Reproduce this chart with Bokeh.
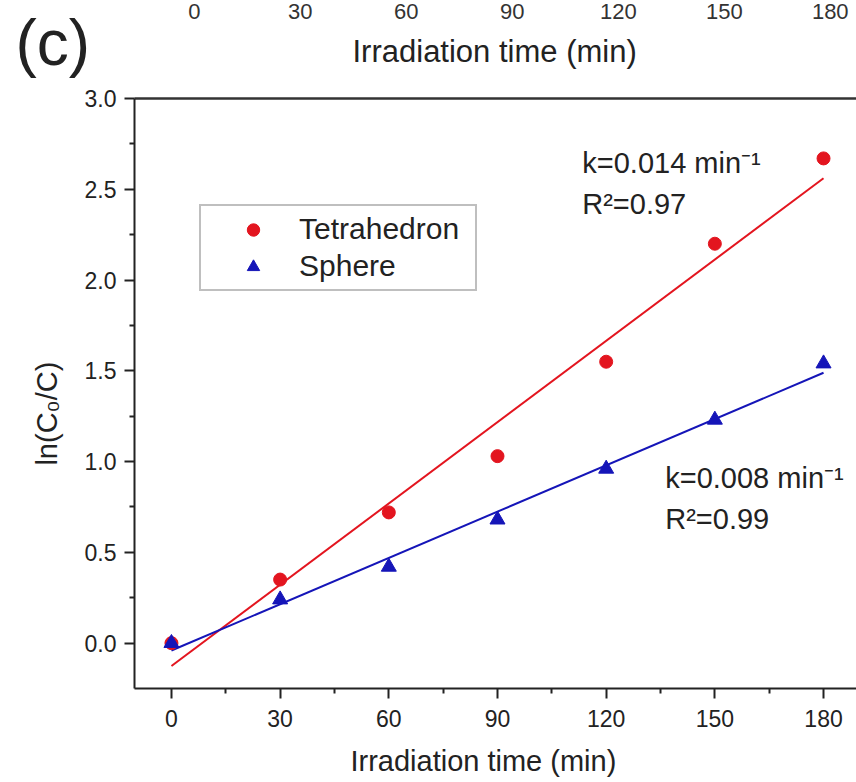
import numpy as np
from bokeh.plotting import figure
from bokeh.layouts import column
from bokeh.models import (Range1d, LinearAxis, FixedTicker, Legend, LegendItem,
                          Label, NumeralTickFormatter)
from bokeh.core.properties import value
from bokeh.embed import file_html
from bokeh.resources import INLINE

# ---------------- data ----------------
time_min = [0, 30, 60, 90, 120, 150, 180]
tetrahedron = [0.0, 0.35, 0.72, 1.03, 1.55, 2.20, 2.67]
sphere = [0.0, 0.24, 0.42, 0.68, 0.96, 1.23, 1.54]
series_names = ["Tetrahedron", "Sphere"]

x_ticks = [0, 30, 60, 90, 120, 150, 180]
x_minor = [15, 45, 75, 105, 135, 165]
y_ticks = [0.0, 0.5, 1.0, 1.5, 2.0, 2.5, 3.0]
y_minor = [0.25, 0.75, 1.25, 1.75, 2.25, 2.75]
prev_panel_ticks = [0, 30, 60, 90, 120, 150, 180]

tetra_note = ["k=0.014 min\u207b\u00b9", "R\u00b2=0.97"]
sphere_note = ["k=0.008 min\u207b\u00b9", "R\u00b2=0.99"]
x_title = "Irradiation time (min)"
y_title = "ln(C\u2080/C)"
panel_tag = "(c)"

# ---------------- style ----------------
FONT = "Liberation Sans"
RED = "#e3151f"
BLUE = "#1515b8"
INK = "#222222"
W = 856
TOP_H = 80
MAIN_H = 782 - TOP_H
NB = "\u00a0"

# ---------- strip above the panel: cropped axis of the previous panel + tag ----------
pa = figure(width=W, height=TOP_H, x_range=Range1d(-54.86, 187.43),
            y_range=Range1d(TOP_H, 0), output_backend="svg",
            toolbar_location=None, x_axis_location=None, y_axis_location=None,
            min_border=0)
pa.frame_align = False
pa.outline_line_color = None
pa.xgrid.visible = False
pa.ygrid.visible = False
pa.text(x=prev_panel_ticks, y=[11] * len(prev_panel_ticks),
        text=[str(v) for v in prev_panel_ticks],
        text_font=value(FONT), text_font_size="22px", text_color="#333333",
        text_align="center", text_baseline="alphabetic")
pa.text(x=[85], y=[51], text=[x_title], text_font=value(FONT),
        text_font_size="31px", text_color=INK,
        text_align="center", text_baseline="alphabetic")
pa.text(x=[-50.6], y=[42], text=[panel_tag], text_font=value(FONT),
        text_font_size="64px", text_color=INK,
        text_align="left", text_baseline="alphabetic")

# ---------------- main panel ----------------
p = figure(width=W, height=MAIN_H,
           x_range=Range1d(-10.2, 189.1), y_range=Range1d(-0.25, 3.0),
           output_backend="svg", toolbar_location=None,
           min_border_left=134, min_border_right=0,
           min_border_top=18, min_border_bottom=94)
p.frame_align = False
p.title.visible = False
p.outline_line_color = None
p.xgrid.visible = False
p.ygrid.visible = False

# linear fits
t = np.array(time_min, dtype=float)
fit_x = np.array([t.min(), t.max()])
ct = np.polyfit(t, tetrahedron, 1)
cs = np.polyfit(t, sphere, 1)
p.line(fit_x, np.polyval(ct, fit_x), line_color=RED, line_width=2)
p.line(fit_x, np.polyval(cs, fit_x), line_color=BLUE, line_width=2)

r_t = p.scatter(time_min, tetrahedron, marker="circle", size=13,
                fill_color=RED, line_color=RED)
r_s = p.scatter(time_min, sphere, marker="triangle", size=15,
                fill_color=BLUE, line_color=BLUE)

def style_axis(ax, font_size="23px"):
    ax.axis_line_width = 2
    ax.axis_line_color = INK
    ax.major_tick_line_width = 2
    ax.minor_tick_line_width = 2
    ax.major_tick_line_color = INK
    ax.minor_tick_line_color = INK
    ax.major_tick_out = 10
    ax.major_tick_in = 0
    ax.minor_tick_out = 5
    ax.minor_tick_in = 0
    ax.major_label_text_font = FONT
    ax.major_label_text_font_size = font_size
    ax.major_label_text_color = INK
    ax.axis_label_text_font = FONT
    ax.axis_label_text_font_size = "29px"
    ax.axis_label_text_font_style = "normal"
    ax.axis_label_text_color = INK

xa = p.xaxis[0]
style_axis(xa)
xa.ticker = FixedTicker(ticks=x_ticks, minor_ticks=x_minor)
xa.axis_label = x_title + NB * 3
xa.major_label_standoff = 11
xa.axis_label_standoff = 15

ya = p.yaxis[0]
style_axis(ya)
ya.ticker = FixedTicker(ticks=y_ticks, minor_ticks=y_minor)
ya.formatter = NumeralTickFormatter(format="0.0")
ya.axis_label = y_title + NB * 5
ya.major_label_standoff = 8
ya.axis_label_standoff = 19

# top frame line
top_line = LinearAxis(ticker=FixedTicker(ticks=[]))
top_line.axis_line_width = 2.5
top_line.axis_line_color = "#333333"
top_line.major_tick_out = 0
top_line.minor_tick_out = 0
top_line.major_label_standoff = 0
top_line.major_label_text_font_size = "0px"
p.add_layout(top_line, "above")

# annotations
for note, x0, y0 in [(tetra_note, 113.4, 2.645), (sphere_note, 136.3, 0.91)]:
    p.add_layout(Label(x=x0, y=y0, text=note[0], text_font=FONT,
                       text_font_size="29px", text_color=INK,
                       text_baseline="alphabetic"))
    p.add_layout(Label(x=x0, y=y0 - 0.225, text=note[1], text_font=FONT,
                       text_font_size="29px", text_color=INK,
                       text_baseline="alphabetic"))

legend = Legend(items=[LegendItem(label=series_names[0], renderers=[r_t]),
                       LegendItem(label=series_names[1], renderers=[r_s])],
                location=(65, 397), orientation="vertical",
                label_text_font=FONT, label_text_font_size="30px",
                label_text_color=INK,
                glyph_width=92, glyph_height=31, label_height=31,
                label_width=170,
                label_standoff=0, padding=6, spacing=3, margin=0,
                border_line_color="#808080", border_line_width=2,
                background_fill_color="white", background_fill_alpha=1.0)
p.add_layout(legend, "center")

layout = column(pa, p, spacing=0)
open("out.html", "w").write(file_html(layout, INLINE))
